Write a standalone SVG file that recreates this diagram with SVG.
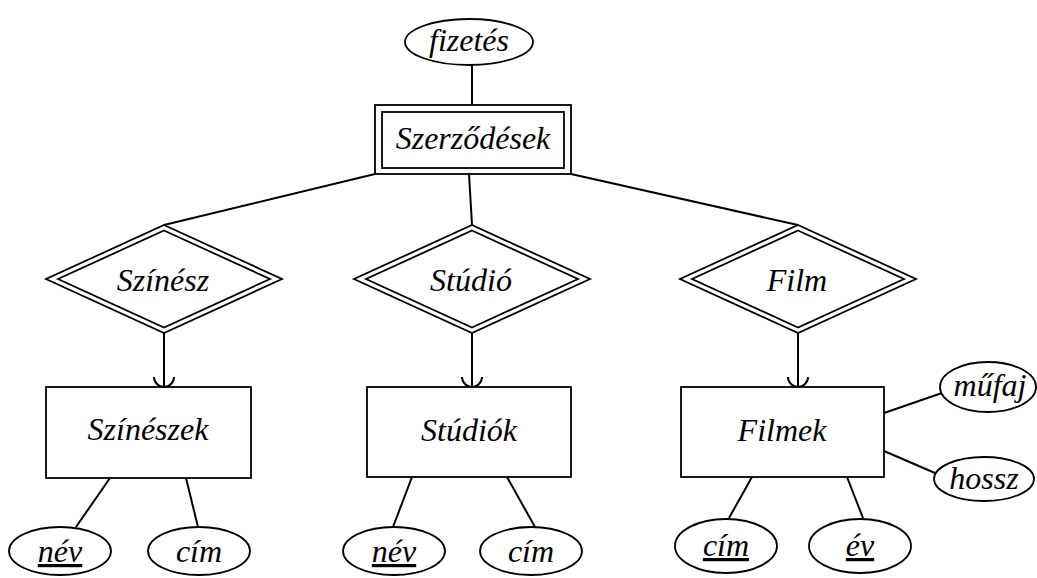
<svg xmlns="http://www.w3.org/2000/svg" width="1037" height="578" viewBox="0 0 1037 578">
<style>
.s{fill:#fff;stroke:#000;stroke-width:1.8}
.t{font-family:"Liberation Serif","Times New Roman",serif;font-style:italic;font-size:32px;text-anchor:middle;fill:#000}
.u{text-decoration:underline}
.c{stroke:#000;stroke-width:2;fill:none}
</style>
<defs>
<marker id="cup" markerUnits="userSpaceOnUse" markerWidth="24" markerHeight="24" refX="0" refY="0" orient="auto" overflow="visible">
<path d="M-10,-10 A10,10 0 0 1 -10,10" fill="none" stroke="#000" stroke-width="2"/>
</marker>
</defs>
<rect width="1037" height="578" fill="#fff"/>
<g id="connectors">
<line class="c" x1="472" y1="65" x2="472" y2="105"/>
<line class="c" x1="375" y1="174" x2="164" y2="225"/>
<line class="c" x1="469" y1="174" x2="472" y2="225"/>
<line class="c" x1="571" y1="174" x2="798" y2="225"/>
<line class="c" x1="164" y1="333" x2="164" y2="387" marker-end="url(#cup)"/>
<line class="c" x1="472" y1="333" x2="472" y2="387" marker-end="url(#cup)"/>
<line class="c" x1="798" y1="333" x2="798" y2="387" marker-end="url(#cup)"/>
<line class="c" x1="110" y1="478" x2="76" y2="527"/>
<line class="c" x1="186" y1="478" x2="198" y2="527"/>
<line class="c" x1="412" y1="477" x2="393" y2="527"/>
<line class="c" x1="507" y1="477" x2="535" y2="527"/>
<line class="c" x1="752" y1="477" x2="729" y2="518"/>
<line class="c" x1="847" y1="477" x2="863" y2="518"/>
<line class="c" x1="884" y1="413" x2="942" y2="393"/>
<line class="c" x1="884" y1="451" x2="935" y2="473"/>
</g>
<g id="fizetes">
<ellipse class="s" cx="469" cy="42" rx="64" ry="23"/>
<text class="t" x="469" y="51">fizetés</text>
</g>
<g id="szerzodesek">
<rect class="s" x="375" y="105" width="196" height="69"/>
<rect class="s" x="382" y="112" width="182" height="56"/>
<text class="t" x="473" y="149">Szerződések</text>
</g>
<g id="szinesz">
<polygon class="s" points="164,225 282,279 164,333 46,279"/>
<polygon class="s" points="164,230.5 270,279 164,327.5 58,279"/>
<text class="t" x="163" y="291">Színész</text>
</g>
<g id="studio">
<polygon class="s" points="472,225 590,279 472,333 354,279"/>
<polygon class="s" points="472,230.5 578,279 472,327.5 366,279"/>
<text class="t" x="471" y="291">Stúdió</text>
</g>
<g id="film">
<polygon class="s" points="798,225 916,279 798,333 680,279"/>
<polygon class="s" points="798,230.5 904,279 798,327.5 692,279"/>
<text class="t" x="797" y="291">Film</text>
</g>
<g id="szineszek">
<rect class="s" x="46" y="387" width="205" height="91"/>
<text class="t" x="148" y="440">Színészek</text>
</g>
<g id="studiok">
<rect class="s" x="367" y="387" width="204" height="90"/>
<text class="t" x="469" y="441">Stúdiók</text>
</g>
<g id="filmek">
<rect class="s" x="681" y="387" width="203" height="90"/>
<text class="t" x="782" y="441">Filmek</text>
</g>
<g id="szineszek-nev">
<ellipse class="s" cx="60" cy="551" rx="51" ry="24"/>
<text class="t u" x="60" y="562">név</text>
</g>
<g id="szineszek-cim">
<ellipse class="s" cx="199" cy="551" rx="51" ry="24"/>
<text class="t" x="199" y="562">cím</text>
</g>
<g id="studiok-nev">
<ellipse class="s" cx="394" cy="551" rx="51" ry="24"/>
<text class="t u" x="394" y="562">név</text>
</g>
<g id="studiok-cim">
<ellipse class="s" cx="531" cy="551" rx="51" ry="24"/>
<text class="t" x="531" y="562">cím</text>
</g>
<g id="filmek-cim">
<ellipse class="s" cx="726" cy="546" rx="51" ry="27"/>
<text class="t u" x="726" y="556">cím</text>
</g>
<g id="filmek-ev">
<ellipse class="s" cx="860" cy="546" rx="51" ry="27"/>
<text class="t u" x="860" y="556">év</text>
</g>
<g id="mufaj">
<ellipse class="s" cx="988" cy="387" rx="48" ry="25"/>
<text class="t" x="990" y="396">műfaj</text>
</g>
<g id="hossz">
<ellipse class="s" cx="984" cy="479" rx="50" ry="22"/>
<text class="t" x="984" y="489">hossz</text>
</g>
</svg>
